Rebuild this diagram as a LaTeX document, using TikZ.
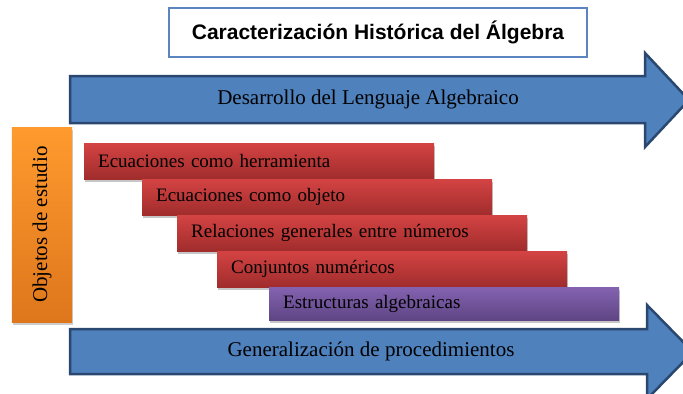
\documentclass[tikz,border=0pt]{standalone}
\usepackage{fontspec}
\setmainfont{Liberation Serif}
\newfontfamily\titulofont{Liberation Sans}
\usetikzlibrary{shadows}
\definecolor{azul}{HTML}{4F81BD}
\definecolor{azuloscuro}{HTML}{2A4770}
\definecolor{marco}{HTML}{5B84C0}
\definecolor{rojoclaro}{HTML}{D44343}
\definecolor{rojooscuro}{HTML}{A02C2C}
\definecolor{moradoclaro}{HTML}{8462B0}
\definecolor{moradooscuro}{HTML}{5E4584}
\definecolor{naranjaclaro}{HTML}{FF9A2E}
\definecolor{naranjaoscuro}{HTML}{DE761C}
\begin{document}
\begin{tikzpicture}[x=1bp,y=-1bp,
	flecha/.style={fill=azul,draw=azuloscuro,line width=2.5bp,line join=miter},
	barra/.style={anchor=north west,minimum height=36bp,text width=322bp,inner xsep=14bp,inner ysep=0pt,
		align=left,top color=rojoclaro,bottom color=rojooscuro,
		drop shadow={shadow xshift=1bp,shadow yshift=-3bp,opacity=.45},
		font=\fontsize{19bp}{21bp}\selectfont},
	texto/.style={font=\fontsize{21bp}{23bp}\selectfont}]
	\useasboundingbox (0,0) rectangle (683,393);
	% titulo
	\node[draw=marco,line width=2.5bp,fill=white,minimum width=418bp,minimum height=49bp,
	font=\titulofont\bfseries\fontsize{21bp}{23bp}\selectfont] (titulo) at (378,32.5) {Caracterización Histórica del Álgebra};
	% flechas
	\draw[flecha] (70,76)--(645,76)--(645,53)--(689,100)--(645,147)--(645,123)--(70,123)--cycle;
	\node[texto] (lenguaje) at (368,99.5) {Desarrollo del Lenguaje Algebraico};
	\draw[flecha] (70,329)--(647,329)--(647,305)--(693,352)--(647,399)--(647,374)--(70,374)--cycle;
	\node[texto] (generalizacion) at (371,351.5) {Generalización de procedimientos};
	% objetos
	\node[rotate=90,minimum width=195bp,minimum height=60bp,inner sep=0pt,
	top color=naranjaclaro,bottom color=naranjaoscuro,
	drop shadow={shadow xshift=1bp,shadow yshift=-3bp,opacity=.4},texto] (objetos) at (42,224.5) {Objetos de estudio};
	\node[barra] (herramienta) at (84,143) {Ecuaciones como herramienta};
	\node[barra] (objeto) at (142,179) {Ecuaciones como objeto};
	\node[barra] (relaciones) at (177,215) {Relaciones generales entre números};
	\node[barra] (conjuntos) at (217,251) {Conjuntos numéricos};
	\node[barra,minimum height=33bp,top color=moradoclaro,bottom color=moradooscuro] (estructuras) at (269,287) {Estructuras algebraicas};
\end{tikzpicture}
\end{document}
